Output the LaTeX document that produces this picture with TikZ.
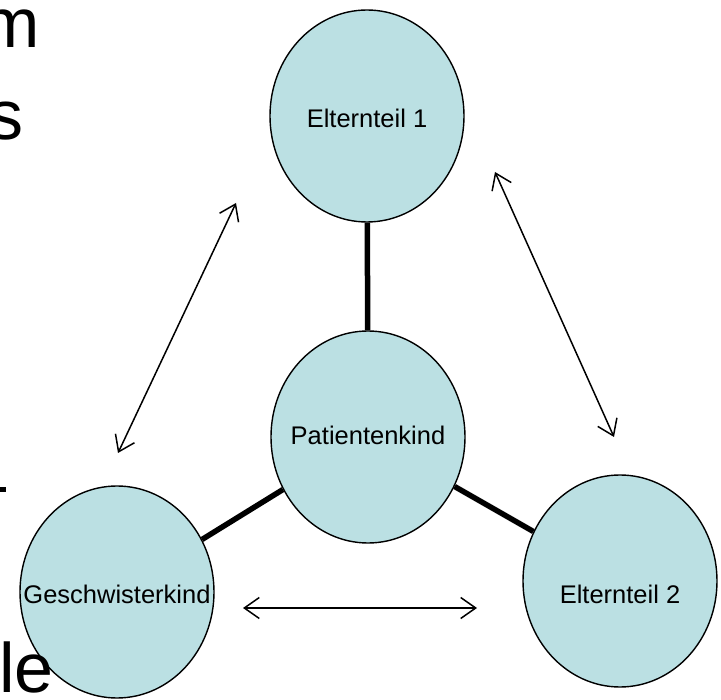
\documentclass[tikz,border=0pt]{standalone}
\usepackage{fontspec}
\setmainfont{Liberation Sans}
\usetikzlibrary{shapes.geometric,arrows.meta}
\definecolor{cfill}{RGB}{187,224,227}
\tikzset{
  pers/.style={ellipse, draw, line width=1.4pt, fill=cfill, minimum width=194pt, minimum height=212pt, inner sep=0pt},
  lbl/.style={inner sep=0pt, font=\fontsize{25.5}{30}\selectfont},
  bond/.style={line width=5.5pt},
  rel/.style={line width=1.5pt, {Straight Barb[length=15pt,width=21pt]}-{Straight Barb[length=15pt,width=21pt]}},
  frag/.style={inner sep=0pt, font=\fontsize{70}{80}\selectfont}
}
\begin{document}
\begin{tikzpicture}[x=1pt,y=-1pt]
\useasboundingbox (0,0) rectangle (721,700);
\clip (0,0) rectangle (721,700);
% background text fragments
\node[frag, anchor=base east] (fm) at (40,48) {m};
\node[frag, anchor=base east] (fs) at (24,140) {s};
\fill (0,487) rectangle (6,492);
% persons
\node[pers] (e1) at (367,116) {};
\node[lbl] (e1t) at (367,118) {Elternteil 1};
\node[pers] (p) at (368,437) {};
\node[lbl] (pt) at (368,435) {Patientenkind};
\node[pers] (g) at (117,592) {};
\node[lbl] (gt) at (117,594) {Geschwisterkind};
\node[pers] (e2) at (620,581) {};
\node[lbl] (e2t) at (620,594) {Elternteil 2};
% bonds
\draw[bond] (e1) -- (p);
\draw[bond] (p) -- (g);
\draw[bond] (p) -- (e2);
% relations
\coordinate (a1) at (236,203);
\coordinate (a2) at (118,453);
\coordinate (b1) at (495,172);
\coordinate (b2) at (614,437);
\coordinate (c1) at (243,608);
\coordinate (c2) at (477,608);
\draw[rel] (a1) -- (a2);
\draw[rel] (b1) -- (b2);
\draw[rel] (c1) -- (c2);
% foreground fragment
\node[frag, anchor=base west] (fle) at (-1,692) {le};
\end{tikzpicture}
\end{document}
